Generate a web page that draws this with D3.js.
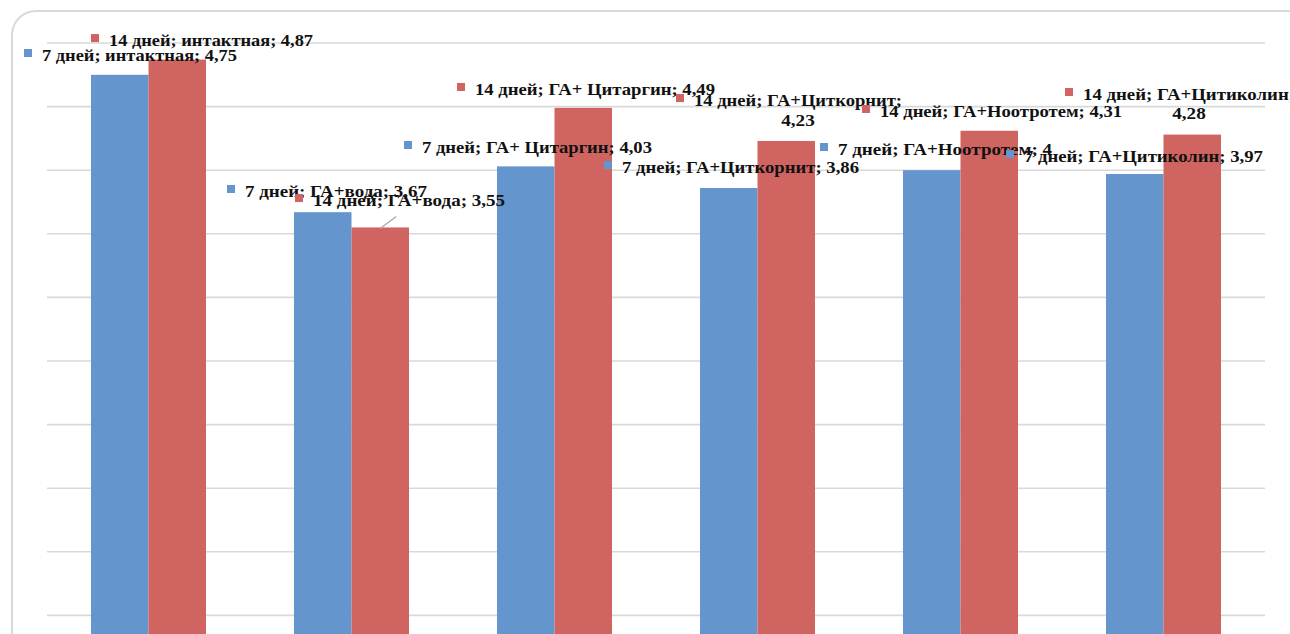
<!DOCTYPE html>
<html>
<head>
<meta charset="utf-8">
<script src="https://cdn.jsdelivr.net/npm/d3@7"></script>
<style>
  html, body { margin: 0; padding: 0; background: #ffffff; }
  svg { display: block; }
</style>
</head>
<body>
<svg id="chart" width="1290" height="634"></svg>
<script>
// ---- data ----
const categories = ["интактная", "ГА+вода", "ГА+ Цитаргин", "ГА+Циткорнит", "ГА+Ноотротем", "ГА+Цитиколин"];
const seriesNames = ["7 дней", "14 дней"];
const values7 = [4.75, 3.67, 4.03, 3.86, 4, 3.97];
const values14 = [4.87, 3.55, 4.49, 4.23, 4.31, 4.28];
const labels7 = ["4,75", "3,67", "4,03", "3,86", "4", "3,97"];
const labels14 = ["4,87", "3,55", "4,49", "4,23", "4,31", "4,28"];
const gridTicks = [0, 0.5, 1, 1.5, 2, 2.5, 3, 3.5, 4, 4.5, 5];

// ---- layout (label offsets relative to bar top-centre, label text widths; not data) ----
const labelOffsets7 = [[-95.75, -13.8], [-95.75, -15.2], [-121.75, -13.4], [-124.75, -15], [-111.75, -15.2], [-128.75, -12]];
const labelOffsets14 = [[-86.25, -13.5], [-85.25, -21.4], [-126.25, -12.9], [-110.25, -34.9], [-127.25, -13.8], [-127.25, -34.6]];
const labelWidths7 = [195, 182, 230, 237, 214, 239];
const labelWidths14 = [204, 192, 240, 208, 242, 212];
const wrap14 = [false, false, false, true, false, true];

const colors = ["#6495CD", "#D06461"];
const svg = d3.select("#chart");

// frame
svg.append("rect")
  .attr("x", 12).attr("y", 11)
  .attr("width", 1298).attr("height", 700)
  .attr("rx", 24).attr("ry", 24)
  .attr("fill", "#ffffff")
  .attr("stroke", "#D9D9D9").attr("stroke-width", 2);

const x0 = d3.scaleBand().domain(categories).range([47, 1265]).paddingInner(0).paddingOuter(0);
const x1 = d3.scaleBand().domain(seriesNames).range([0, x0.bandwidth()]).paddingInner(0).paddingOuter(0.765);
const y = d3.scaleLinear().domain([0, 5]).range([679, 43]);

// gridlines
svg.append("g").selectAll("line").data(gridTicks).join("line")
  .attr("x1", 47).attr("x2", 1265)
  .attr("y1", d => y(d)).attr("y2", d => y(d))
  .attr("stroke", "#D9D9D9").attr("stroke-width", 1.6);

const allSeries = [values7, values14];
const allLabels = [labels7, labels14];
const allOffsets = [labelOffsets7, labelOffsets14];
const allWidths = [labelWidths7, labelWidths14];

// bars
allSeries.forEach((vals, s) => {
  svg.append("g").selectAll("rect").data(vals).join("rect")
    .attr("x", (d, i) => x0(categories[i]) + x1(seriesNames[s]))
    .attr("y", d => y(d))
    .attr("width", x1.bandwidth())
    .attr("height", d => y(0) - y(d))
    .attr("fill", colors[s]);
});

// leader line for 14 дней; ГА+вода
{
  const i = 1;
  const cx = x0(categories[i]) + x1(seriesNames[1]) + x1.bandwidth() / 2;
  svg.append("line")
    .attr("x1", cx).attr("y1", y(values14[i]) + 1)
    .attr("x2", cx + 16).attr("y2", y(values14[i]) - 11)
    .attr("stroke", "#A6A6A6").attr("stroke-width", 1.2);
}

// data labels
const fontFam = "'Liberation Serif', 'Times New Roman', serif";
allSeries.forEach((vals, s) => {
  const g = svg.append("g");
  vals.forEach((v, i) => {
    const cx = x0(categories[i]) + x1(seriesNames[s]) + x1.bandwidth() / 2;
    const top = y(v);
    const [dx, dy] = allOffsets[s][i];
    const sx = cx + dx;
    const base = top + dy;
    const w = allWidths[s][i];
    g.append("rect")
      .attr("x", sx).attr("y", base - 12)
      .attr("width", 8).attr("height", 8)
      .attr("fill", colors[s]);
    const mk = () => g.append("text")
      .attr("font-family", fontFam)
      .attr("font-weight", "bold")
      .attr("font-size", 16)
      .attr("fill", "#111");
    if (s === 1 && wrap14[i]) {
      mk().attr("x", sx + 18).attr("y", base)
        .attr("textLength", w).attr("lengthAdjust", "spacingAndGlyphs")
        .text(seriesNames[s] + "; " + categories[i] + ";");
      const t2 = mk().attr("y", base + 19.5).text(allLabels[s][i]);
      const w2 = t2.node().getComputedTextLength() * 1.2;
      t2.attr("x", sx + 18 + w / 2 - w2 / 2)
        .attr("textLength", w2).attr("lengthAdjust", "spacingAndGlyphs");
    } else {
      mk().attr("x", sx + 18).attr("y", base)
        .attr("textLength", w).attr("lengthAdjust", "spacingAndGlyphs")
        .text(seriesNames[s] + "; " + categories[i] + "; " + allLabels[s][i]);
    }
  });
});
</script>
</body>
</html>
